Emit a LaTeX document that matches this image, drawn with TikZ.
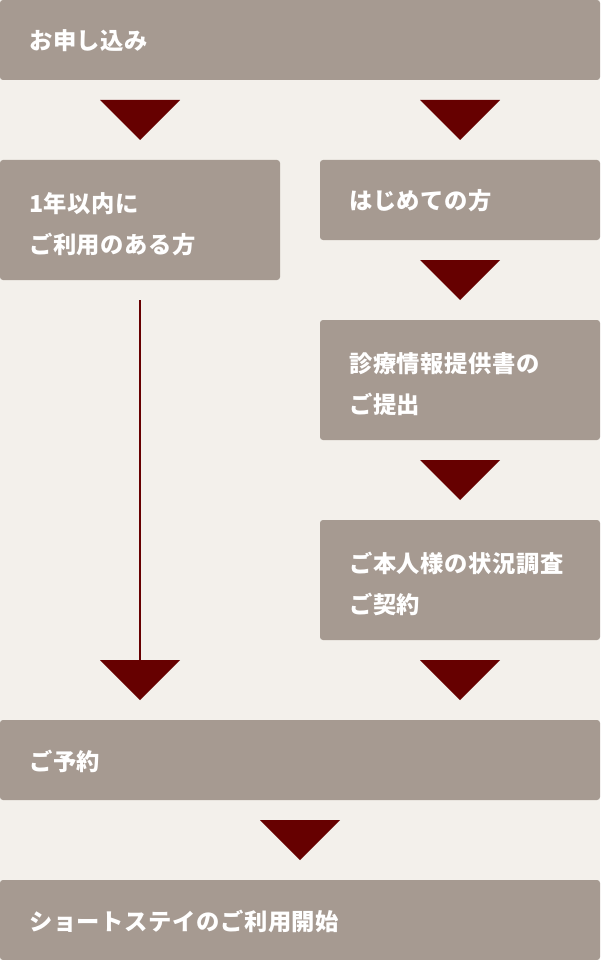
\documentclass[tikz,border=0pt]{standalone}
\usepackage{fontspec}
\newfontfamily\jp{Noto Sans CJK JP}[LetterSpace=2.5]
\definecolor{bg}{HTML}{F3F0EB}
\definecolor{boxc}{HTML}{A69A91}
\definecolor{arr}{HTML}{660000}
\begin{document}
\begin{tikzpicture}[x=1pt,y=-1pt,
  stepbox/.style={fill=boxc,draw=none,rounded corners=3pt},
  lbl/.style={anchor=west,inner sep=0pt,text=white,align=left,
    font={\jp\bfseries\fontsize{23.3}{41.5}\selectfont}},
  tri/.style={fill=arr,draw=none}]
\fill[bg] (0,0) rectangle (600,960);
\useasboundingbox (0,0) rectangle (600,960);
% boxes
\fill[stepbox] (0,0) rectangle (600,80);
\fill[stepbox] (0,160) rectangle (280,280);
\fill[stepbox] (320,160) rectangle (600,240);
\fill[stepbox] (320,320) rectangle (600,440);
\fill[stepbox] (320,520) rectangle (600,640);
\fill[stepbox] (0,720) rectangle (600,800);
\fill[stepbox] (0,880) rectangle (600,960);
% labels
\node[lbl] (t1) at (29,41) {お申し込み};
\node[lbl] (t2) at (29,224) {1年以内に\\ご利用のある方};
\node[lbl] (t3) at (349,201) {はじめての方};
\node[lbl] (t4) at (349,384) {診療情報提供書の\\ご提出};
\node[lbl] (t5) at (349,584) {ご本人様の状況調査\\ご契約};
\node[lbl] (t6) at (29,761) {ご予約};
\node[lbl] (t7) at (29,921) {ショートステイのご利用開始};
% connector line
\coordinate (ls) at (140,300);
\coordinate (le) at (140,662);
\draw[arr,line width=2pt] (ls) -- (le);
% triangles
\foreach \x/\y in {100/100,420/100,420/260,420/460,100/660,420/660,260/820}{
  \fill[tri] (\x,\y) -- ++(80,0) -- ++(-40,40) -- cycle;
}
\end{tikzpicture}
\end{document}
